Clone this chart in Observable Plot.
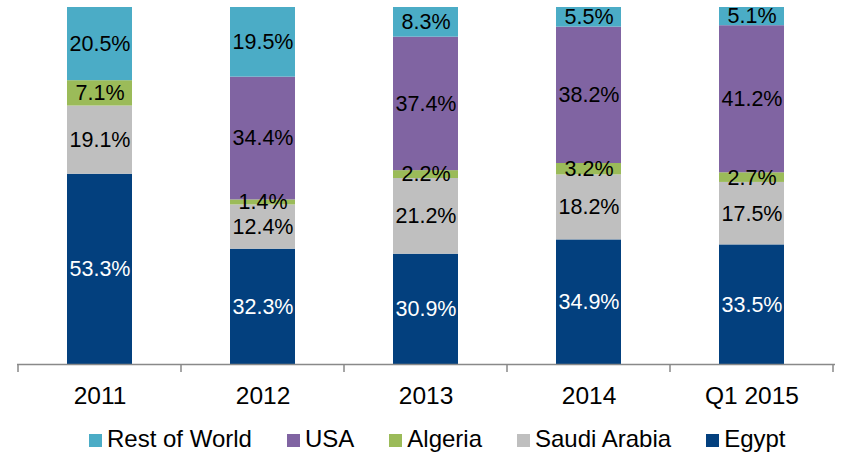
<!DOCTYPE html>
<html>
<head>
<meta charset="utf-8">
<script src="https://cdn.jsdelivr.net/npm/d3@7"></script>
<script src="https://cdn.jsdelivr.net/npm/@observablehq/plot@0.6"></script>
<style>
  body { margin: 0; background: #fff; font-family: "Liberation Sans", Arial, sans-serif; }
  #wrap { position: relative; width: 841px; height: 456px; }
  #legend { position: absolute; left: 89px; top: 426px; display: flex; align-items: center; font-size: 24px; color: #000; line-height: 26px; }
  #legend .item { display: flex; align-items: center; margin-right: 35px; }
  #legend .sw { width: 13px; height: 13px; margin-right: 5px; margin-top: 3px; }
</style>
</head>
<body>
<div id="wrap"><div id="chart"></div><div id="legend"></div></div>
<script>
const years = ["2011", "2012", "2013", "2014", "Q1 2015"];
const seriesNames = ["Egypt", "Saudi Arabia", "Algeria", "USA", "Rest of World"];
const egypt = [53.3, 32.3, 30.9, 34.9, 33.5];
const saudiArabia = [19.1, 12.4, 21.2, 18.2, 17.5];
const algeria = [7.1, 1.4, 2.2, 3.2, 2.7];
const usa = [0, 34.4, 37.4, 38.2, 41.2];
const restOfWorld = [20.5, 19.5, 8.3, 5.5, 5.1];
const colors = ["#03407e", "#bfbfbf", "#9bbb59", "#8064a2", "#4bacc6"];
const legendOrder = ["Rest of World", "USA", "Algeria", "Saudi Arabia", "Egypt"];

const valuesBySeries = [egypt, saudiArabia, algeria, usa, restOfWorld];
const data = [];
seriesNames.forEach((s, si) => {
  years.forEach((y, yi) => {
    data.push({year: y, series: s, value: valuesBySeries[si][yi]});
  });
});
const labelData = data.filter(d => d.value > 0);

const W = 841, H = 415;
const plot = Plot.plot({
  width: W,
  height: H,
  marginTop: 7,
  marginBottom: H - 364,
  marginLeft: 17,
  marginRight: 6,
  style: {fontFamily: "'Liberation Sans', Arial, sans-serif", background: "#fff"},
  x: {domain: years, paddingInner: 0.6, paddingOuter: 0.3, label: null},
  y: {domain: [0, 100], axis: null},
  color: {domain: seriesNames, range: colors},
  marks: [
    Plot.barY(data, Plot.stackY({x: "year", y: "value", fill: "series", z: "series", order: seriesNames})),
    Plot.text(labelData, Plot.stackY({
      x: "year", y: "value", z: "series", order: seriesNames,
      text: d => d.value.toFixed(1) + "%",
      fill: d => d.series === "Egypt" ? "#ffffff" : "#000000",
      fontSize: 21.5
    })),
    Plot.ruleY([0], {stroke: "#898989", strokeWidth: 1.5}),
    Plot.axisX({tickSize: 0, tickPadding: 22, fontSize: 24.5, fill: "#000", label: null})
  ]
});
document.getElementById("chart").appendChild(plot);

// boundary tick marks below the axis, computed from the band scale
const xs = plot.scale("x");
const gap = xs.step - xs.bandwidth;
const bounds = years.map(y => xs.apply(y) - gap / 2);
bounds.push(xs.apply(years[years.length - 1]) + xs.bandwidth + gap / 2);
const y0 = plot.scale("y").apply(0);
d3.select(plot).append("g")
  .selectAll("line").data(bounds).join("line")
  .attr("x1", d => d).attr("x2", d => d)
  .attr("y1", y0).attr("y2", y0 + 8)
  .attr("stroke", "#898989").attr("stroke-width", 1.5);

// legend
const legend = d3.select("#legend");
legendOrder.forEach(name => {
  const item = legend.append("div").attr("class", "item");
  item.append("div").attr("class", "sw").style("background", colors[seriesNames.indexOf(name)]);
  item.append("span").text(name);
});
</script>
</body>
</html>
